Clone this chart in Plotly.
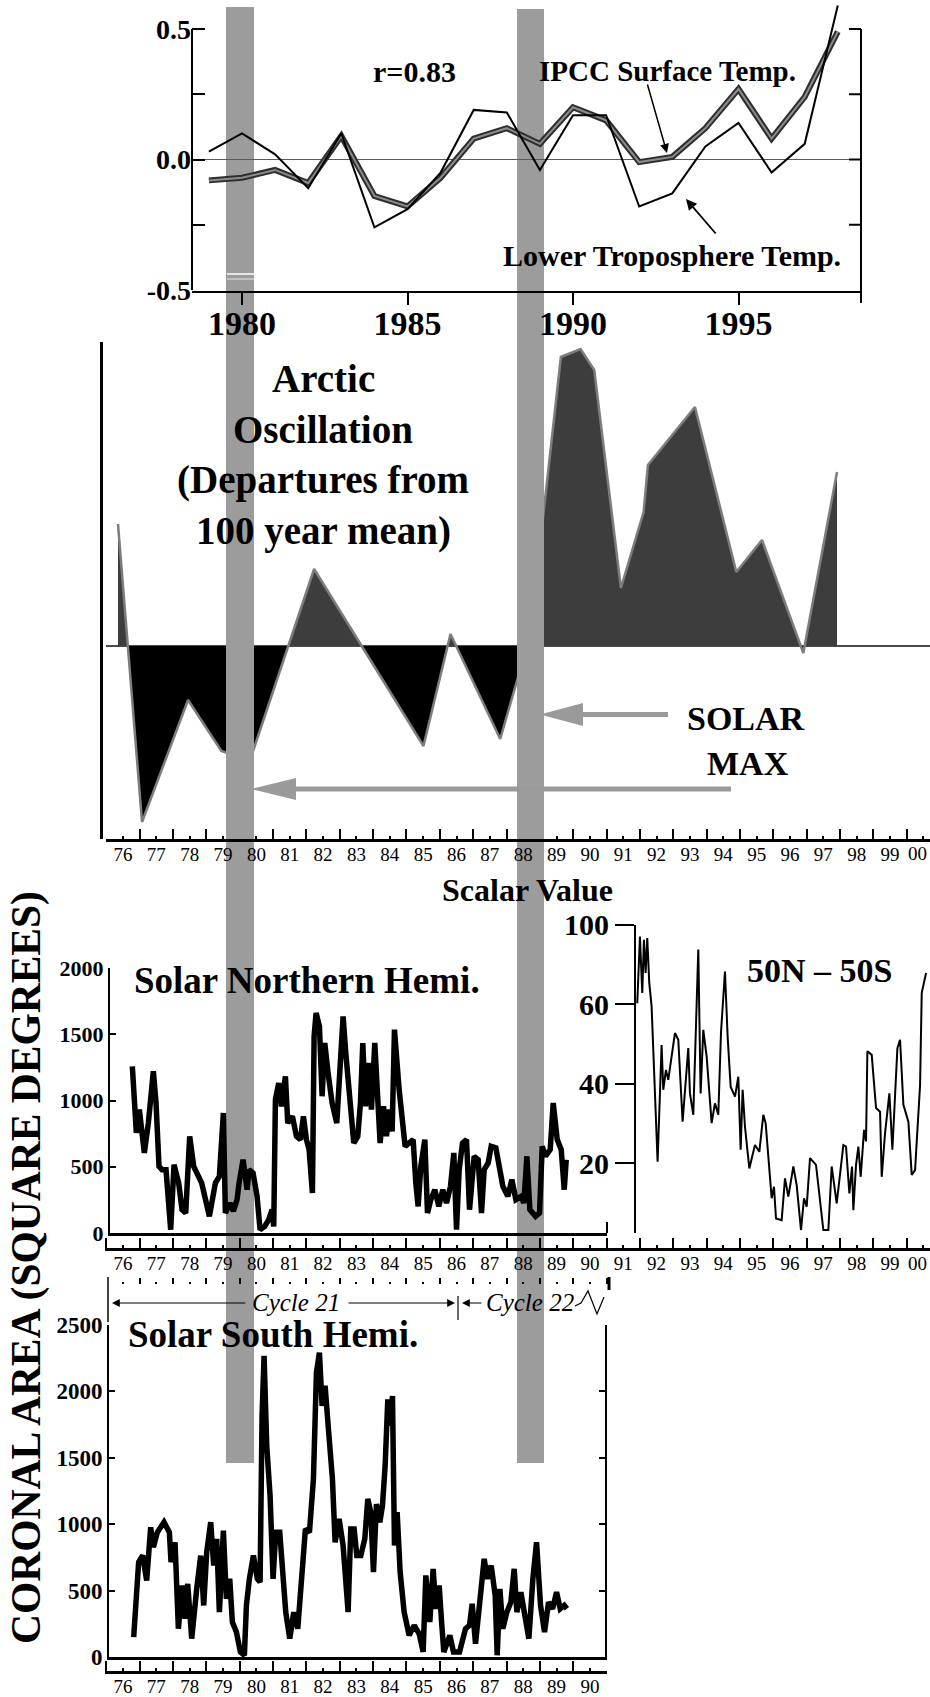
import plotly.graph_objects as go

# ---------------------------------------------------------------- data
# Annual temperature anomalies (deg C)
temp_years = list(range(1979, 1999))
lower_trop = [0.03, 0.10, 0.02, -0.11, 0.10, -0.26, -0.19, -0.05, 0.19, 0.18,
              -0.04, 0.17, 0.17, -0.18, -0.13, 0.05, 0.14, -0.05, 0.06, 0.59]
ipcc_surface = [-0.08, -0.07, -0.04, -0.09, 0.09, -0.14, -0.18, -0.07, 0.08, 0.12,
                0.06, 0.20, 0.15, -0.01, 0.01, 0.12, 0.27, 0.08, 0.24, 0.49]
temp_tick_years = [1980, 1985, 1990, 1995]

# Arctic Oscillation, departures from the 100 year mean (index units)
ao_time = [75.85, 76.57, 77.95, 78.95, 79.80, 81.73, 85.01, 85.82, 87.31, 88.20,
           89.13, 89.72, 90.13, 90.93, 91.61, 91.74, 93.15, 94.39, 95.16, 96.40, 97.41]
ao_value = [1.22, -1.76, -0.54, -1.05, -1.15, 0.77, -1.00, 0.12, -0.93, 0.10,
            2.89, 2.97, 2.76, 0.58, 1.34, 1.81, 2.39, 0.74, 1.06, -0.07, 1.74]

# Coronal hole area, northern solar hemisphere (square degrees)
north_time = [76.28, 76.34, 76.40, 76.49, 76.64, 76.76, 76.91, 76.99, 77.08, 77.17,
              77.29, 77.43, 77.53, 77.67, 77.77, 77.88, 78.00, 78.12, 78.36, 78.59,
              78.77, 78.89, 79.01, 79.07, 79.21, 79.31, 79.42, 79.48, 79.60, 79.72,
              79.78, 79.90, 80.02, 80.11, 80.25, 80.37, 80.47, 80.52, 80.57, 80.67,
              80.75, 80.87, 80.94, 81.08, 81.20, 81.32, 81.41, 81.50, 81.58, 81.68,
              81.73, 81.79, 81.89, 81.97, 82.05, 82.15, 82.27, 82.41, 82.50, 82.60,
              82.68, 82.80, 82.92, 83.04, 83.12, 83.19, 83.27, 83.35, 83.45, 83.55,
              83.63, 83.71, 83.81, 83.90, 83.99, 84.07, 84.14, 84.28, 84.46, 84.58,
              84.70, 84.78, 84.85, 84.93, 85.05, 85.13, 85.23, 85.35, 85.47, 85.59,
              85.70, 85.82, 85.92, 86.00, 86.08, 86.18, 86.30, 86.39, 86.53, 86.65,
              86.75, 86.83, 86.95, 87.04, 87.18, 87.30, 87.39, 87.54, 87.66, 87.78,
              87.94, 88.02, 88.11, 88.20, 88.37, 88.49, 88.57, 88.67, 88.81, 88.90,
              89.02, 89.14, 89.23, 89.29]
north_area = [1258, 1006, 755, 931, 604, 830, 1220, 981, 503, 478,
              478, 25, 516, 377, 176, 151, 730, 503, 377, 126,
              377, 428, 906, 151, 226, 164, 252, 377, 553, 327,
              478, 453, 277, 25, 50, 101, 176, 50, 1006, 1132,
              956, 1182, 830, 881, 730, 705, 881, 705, 629, 302,
              1484, 1661, 1560, 1032, 1434, 1208, 981, 830, 1283, 1635,
              1359, 981, 679, 730, 981, 1434, 956, 1283, 931, 1434,
              1082, 679, 956, 730, 931, 767, 1535, 1082, 654, 679,
              705, 377, 201, 503, 705, 151, 252, 327, 201, 327,
              226, 352, 604, 25, 478, 679, 705, 176, 579, 553,
              151, 478, 528, 654, 642, 478, 352, 277, 403, 252,
              277, 226, 579, 176, 126, 151, 654, 579, 629, 981,
              705, 629, 327, 553]

# Coronal hole area, southern solar hemisphere (square degrees)
south_time = [76.32, 76.47, 76.59, 76.71, 76.83, 76.91, 77.03, 77.23, 77.39, 77.44,
              77.56, 77.66, 77.78, 77.86, 77.94, 78.06, 78.21, 78.33, 78.42, 78.51,
              78.63, 78.72, 78.81, 78.89, 79.01, 79.10, 79.20, 79.28, 79.40, 79.52,
              79.64, 79.70, 79.79, 79.91, 80.03, 80.11, 80.17, 80.23, 80.31, 80.41,
              80.50, 80.58, 80.70, 80.79, 80.88, 81.00, 81.12, 81.24, 81.35, 81.47,
              81.59, 81.71, 81.80, 81.89, 81.97, 82.06, 82.16, 82.28, 82.36, 82.48,
              82.60, 82.75, 82.83, 82.93, 83.01, 83.13, 83.25, 83.34, 83.43, 83.51,
              83.60, 83.70, 83.78, 83.86, 83.94, 84.02, 84.08, 84.14, 84.22, 84.31,
              84.43, 84.58, 84.73, 84.88, 85.00, 85.08, 85.20, 85.30, 85.38, 85.48,
              85.56, 85.62, 85.80, 85.91, 86.09, 86.27, 86.39, 86.47, 86.57, 86.68,
              86.83, 86.92, 87.04, 87.16, 87.22, 87.30, 87.39, 87.51, 87.63, 87.73,
              87.81, 87.93, 88.05, 88.17, 88.29, 88.40, 88.52, 88.64, 88.76, 88.88,
              89.00, 89.11, 89.23, 89.31]
south_area = [150, 714, 764, 576, 977, 827, 939, 1015, 939, 714,
              864, 213, 539, 288, 551, 138, 513, 764, 388, 789,
              1015, 689, 889, 338, 952, 438, 589, 263, 188, 38,
              13, 388, 589, 764, 589, 564, 1816, 2267, 1590, 1215,
              589, 939, 939, 589, 338, 138, 338, 213, 589, 964,
              939, 1340, 2142, 2292, 1891, 2042, 1716, 1340, 864, 1040,
              839, 338, 964, 964, 764, 764, 889, 1190, 1090, 639,
              1152, 1015, 1140, 1440, 1941, 1741, 1966, 839, 1090, 639,
              338, 163, 238, 175, 38, 614, 263, 664, 363, 539,
              238, 38, 163, 38, 38, 213, 238, 401, 100, 338,
              739, 589, 689, 463, 13, 513, 213, 338, 413, 664,
              338, 488, 338, 138, 589, 864, 388, 188, 413, 363,
              488, 363, 388, 363]

# Scalar value, 50N - 50S
scalar_time = [91.42, 91.50, 91.57, 91.62, 91.67, 91.72, 91.78, 91.85, 92.03, 92.15,
               92.20, 92.28, 92.35, 92.55, 92.65, 92.78, 92.95, 93.00, 93.10, 93.25,
               93.32, 93.40, 93.50, 93.65, 93.75, 93.85, 93.93, 94.05, 94.13, 94.22,
               94.35, 94.45, 94.52, 94.58, 94.65, 94.78, 94.95, 95.08, 95.20, 95.27,
               95.45, 95.52, 95.58, 95.75, 95.85, 95.95, 96.10, 96.20, 96.33, 96.42,
               96.50, 96.60, 96.78, 96.93, 97.00, 97.15, 97.25, 97.40, 97.60, 97.68,
               97.78, 97.86, 97.90, 97.98, 98.05, 98.12, 98.22, 98.28, 98.32, 98.45,
               98.58, 98.70, 98.75, 98.85, 98.98, 99.07, 99.22, 99.30, 99.40, 99.55,
               99.65, 99.75, 99.90, 99.95, 100.08]
scalar_value = [60.3, 77.1, 62.9, 76.3, 67.9, 76.7, 65.4, 59.5, 20.4, 49.8,
                38.5, 43.5, 41.0, 52.8, 51.1, 30.5, 49.0, 37.6, 32.2, 73.8,
                37.6, 53.6, 46.9, 30.1, 35.1, 32.2, 52.8, 68.3, 51.9, 39.3,
                36.8, 41.8, 23.4, 38.5, 29.2, 18.7, 24.6, 22.9, 32.2, 30.1,
                11.2, 14.1, 6.1, 5.7, 16.2, 11.6, 19.2, 14.5, 3.2, 11.2,
                9.1, 21.3, 19.6, 8.2, 3.2, 3.2, 19.2, 9.9, 24.6, 24.2,
                12.4, 19.2, 8.2, 19.6, 24.2, 16.6, 28.4, 25.5, 48.2, 47.3,
                33.9, 33.0, 16.6, 27.6, 37.6, 23.4, 49.0, 51.1, 34.7, 30.5,
                17.1, 18.3, 39.7, 62.9, 67.9]
scalar_tick_vals = [20, 40, 60, 80]
scalar_tick_text = ["20", "40", "60", "100"]

coronal_ticks_north = [0, 500, 1000, 1500, 2000]
coronal_ticks_south = [0, 500, 1000, 1500, 2000, 2500]

year_ticks = list(range(76, 101))
year_labels = [f"{y % 100:02d}" for y in year_ticks]
half_year_ticks = [y + 0.5 for y in range(75, 100)]

# ---------------------------------------------------------------- geometry
W, H = 930, 1697
SERIF = "Liberation Serif"
BAR_GREY = "#9c9c9c"


def fx(px):
    return px / W


def fy(py):
    return 1 - py / H


def yr_at(px):          # lower panels: one shared time scale
    return 76 + (px - 123) / 33.35


def top_yr_at(px):
    return 1980 + (px - 242) / 33.1


def top_val_at(py):
    return (159.5 - py) / 261


def ao_val_at(py):
    return (646 - py) / 100


def scalar_val_at(py):
    return 20 + (1163.3 - py) / 3.972


def split_at_zero(t, v):
    tt, vv = [t[0]], [v[0]]
    for i in range(1, len(t)):
        a, b = v[i - 1], v[i]
        if a * b < 0:
            tt.append(t[i - 1] + (t[i] - t[i - 1]) * a / (a - b))
            vv.append(0.0)
        tt.append(t[i])
        vv.append(b)
    return tt, [max(x, 0) for x in vv], [min(x, 0) for x in vv]


fig = go.Figure()

# ---------------------------------------------------------------- traces
fig.add_trace(go.Scatter(x=temp_years, y=ipcc_surface, mode="lines", xaxis="x", yaxis="y",
                         line=dict(color="#2e2e2e", width=6)))
fig.add_trace(go.Scatter(x=temp_years, y=ipcc_surface, mode="lines", xaxis="x", yaxis="y",
                         line=dict(color="#8c8c8c", width=2)))
fig.add_trace(go.Scatter(x=temp_years, y=lower_trop, mode="lines", xaxis="x", yaxis="y",
                         line=dict(color="black", width=2)))

ao_t, ao_pos, ao_neg = split_at_zero(ao_time, ao_value)
fig.add_trace(go.Scatter(x=ao_t, y=ao_pos, mode="lines", fill="tozeroy", xaxis="x2", yaxis="y2",
                         fillcolor="#3d3d3d", line=dict(width=0)))
fig.add_trace(go.Scatter(x=ao_t, y=ao_neg, mode="lines", fill="tozeroy", xaxis="x2", yaxis="y2",
                         fillcolor="#000000", line=dict(width=0)))
fig.add_trace(go.Scatter(x=ao_time, y=ao_value, mode="lines", xaxis="x2", yaxis="y2",
                         line=dict(color="#7d7d7d", width=2.5)))

fig.add_trace(go.Scatter(x=north_time, y=north_area, mode="lines", xaxis="x3", yaxis="y3",
                         line=dict(color="black", width=5.5)))
fig.add_trace(go.Scatter(x=scalar_time, y=scalar_value, mode="lines", xaxis="x4", yaxis="y4",
                         line=dict(color="black", width=2)))
fig.add_trace(go.Scatter(x=south_time, y=south_area, mode="lines", xaxis="x6", yaxis="y6",
                         line=dict(color="black", width=5.5)))

# empty traces so the stand-alone year axes get drawn
for xa, ya in [("x5", "y5"), ("x7", "y7"), ("x8", "y8")]:
    fig.add_trace(go.Scatter(x=[], y=[], mode="lines", xaxis=xa, yaxis=ya, hoverinfo="skip"))

# ---------------------------------------------------------------- axes
tick_bold = lambda s: dict(family=SERIF, size=s, color="black", weight="bold")
tick_plain = dict(family=SERIF, size=19, color="black")
base = dict(showgrid=False, zeroline=False, color="black", automargin=False,
            ticklabeloverflow="allow")

# the final "00" sits on the page edge, so it is set as a right-aligned label instead
axis_year_labels = year_labels[:-1] + [""]


def time_axis(px0, px1, anchor, labels=True, line=True):
    d = dict(base, domain=[fx(px0), fx(px1)], range=[yr_at(px0), yr_at(px1)], anchor=anchor,
             showline=line, linewidth=2.5, linecolor="black",
             tickmode="array", tickvals=year_ticks, ticktext=axis_year_labels,
             ticks="inside", ticklen=3, tickwidth=1.5, tickcolor="black",
             showticklabels=labels, tickfont=tick_plain, ticklabelstandoff=-4,
             minor=dict(tickmode="array", tickvals=half_year_ticks, ticks="inside",
                        ticklen=10, tickwidth=1.5, tickcolor="black", showgrid=False))
    return d


def stub_y(py0, py1, anchor):
    return dict(domain=[fy(py0), fy(py1)], anchor=anchor, visible=False, range=[0, 1],
                automargin=False)


layout_axes = dict(
    xaxis=dict(base, domain=[fx(192), fx(861)], range=[top_yr_at(192), top_yr_at(861)], anchor="y",
               showline=True, linewidth=2, linecolor="black", ticks="outside", ticklen=12, tickwidth=2,
               tickcolor="black", tickmode="array", tickvals=temp_tick_years, tickfont=tick_bold(34),
               ticklabelstandoff=-11),
    yaxis=dict(base, domain=[fy(291), fy(3)], range=[top_val_at(291), top_val_at(3)], anchor="x",
               showline=False, ticks="inside", ticklen=13, tickwidth=2, tickcolor="black",
               tickmode="array", tickvals=[-0.5, -0.25, 0, 0.25, 0.5],
               ticktext=["-0.5", "", "0.0", "", "0.5"], tickfont=tick_bold(28),
               zeroline=True, zerolinecolor="#5a5a5a", zerolinewidth=1.2),
    xaxis2=time_axis(106, 930, "y2"),
    yaxis2=dict(base, domain=[fy(839), fy(342)], range=[ao_val_at(839), ao_val_at(342)],
                anchor="free", position=fx(101), showline=True, linewidth=3, linecolor="black",
                showticklabels=False, ticks="",
                zeroline=True, zerolinecolor="#4a4a4a", zerolinewidth=1.5),
    xaxis3=dict(base, domain=[fx(110), fx(607)], range=[yr_at(110), yr_at(607)], anchor="y3",
                showline=True, linewidth=2.5, linecolor="black", showticklabels=False, ticks=""),
    yaxis3=dict(base, domain=[fy(1233), fy(968)], range=[0, 2000], anchor="x3",
                showline=True, linewidth=2, linecolor="black", ticks="inside", ticklen=6, tickwidth=2,
                tickcolor="black", tickmode="array", tickvals=coronal_ticks_north, tickfont=tick_bold(22)),
    xaxis4=dict(base, domain=[fx(636), 1], range=[yr_at(636), yr_at(930)], anchor="y4",
                showline=False, showticklabels=False, ticks=""),
    yaxis4=dict(base, domain=[fy(1233), fy(925)], range=[scalar_val_at(1233), scalar_val_at(925)],
                anchor="x4", showline=True, linewidth=2, linecolor="black",
                ticks="outside", ticklen=19, tickwidth=2, tickcolor="black",
                tickmode="array", tickvals=scalar_tick_vals, ticktext=scalar_tick_text,
                tickfont=tick_bold(30)),
    xaxis5=time_axis(105, 930, "y5"),
    yaxis5=stub_y(1248, 1240, "x5"),
    xaxis6=dict(base, domain=[fx(109), fx(605)], range=[yr_at(109), yr_at(605)], anchor="y6",
                showline=True, linewidth=2.5, linecolor="black", showticklabels=False, ticks=""),
    yaxis6=dict(base, domain=[fy(1657), fy(1325)], range=[0, 2500], anchor="x6",
                showline=True, linewidth=2, linecolor="black", mirror="ticks",
                ticks="inside", ticklen=6, tickwidth=2, tickcolor="black",
                tickmode="array", tickvals=coronal_ticks_south, tickfont=tick_bold(23)),
    xaxis7=time_axis(105, 607, "y7"),
    yaxis7=stub_y(1671, 1663, "x7"),
)
# dotted year row above the solar-cycle bracket
dotted = time_axis(107, 609, "y8", labels=False, line=False)
dotted.update(ticklen=2, tickwidth=2)
dotted["minor"].update(ticklen=6, tickwidth=1.5)
layout_axes["xaxis8"] = dotted
layout_axes["yaxis8"] = stub_y(1284, 1276, "x8")

# ---------------------------------------------------------------- shapes
shapes = []


def vline(px, py0, py1, width=2, color="black"):
    shapes.append(dict(type="line", xref="paper", yref="paper", x0=fx(px), x1=fx(px),
                       y0=fy(py0), y1=fy(py1), line=dict(color=color, width=width)))


def hline(px0, px1, py, width=2, color="black", layer="above"):
    shapes.append(dict(type="line", xref="paper", yref="paper", x0=fx(px0), x1=fx(px1),
                       y0=fy(py), y1=fy(py), line=dict(color=color, width=width), layer=layer))


def poly(points, color, layer="above", width=0):
    path = "M " + " L ".join(f"{fx(a):.5f},{fy(b):.5f}" for a, b in points) + " Z"
    shapes.append(dict(type="path", xref="paper", yref="paper", path=path, fillcolor=color,
                       line=dict(width=width, color=color), layer=layer))


# grey marker bands through all panels
for bx0, bx1, by0 in [(226, 254, 7), (517, 544, 9)]:
    shapes.append(dict(type="rect", xref="paper", yref="paper", x0=fx(bx0), x1=fx(bx1),
                       y0=fy(1463), y1=fy(by0), fillcolor=BAR_GREY, line=dict(width=0), layer="below"))
    shapes.append(dict(type="rect", xref="paper", yref="paper", x0=fx(bx0), x1=fx(bx1),
                       y0=fy(839), y1=fy(342), fillcolor=BAR_GREY, line=dict(width=0), layer="above"))
# pale seams across the first band just above the temperature axis
hline(227, 255, 274, width=1.5, color="white", layer="below")
hline(227, 255, 279, width=1.0, color="#e6e6e6", layer="below")

# temperature frame
vline(192, 290, 29)
vline(861, 303, 29)
for v in [0.5, 0.25, 0, -0.25]:
    hline(849, 861, 159.5 - v * 261)

# SOLAR MAX arrows
poly([(540, 714.5), (583, 703), (583, 712), (668, 712), (668, 717), (583, 717), (583, 726)], "#9a9a9a")
poly([(251, 789), (296, 778), (296, 786.5), (731, 786.5), (731, 791.5), (296, 791.5), (296, 800)], "#9a9a9a")

# small frame stubs
vline(607, 1233, 1222, width=2)
vline(108, 1277, 1322, width=1.5)
vline(609, 1277, 1290, width=3)
vline(458, 1296, 1320, width=1.2)
# little wave after "Cycle 22"
shapes.append(dict(type="path", xref="paper", yref="paper",
                   path="M " + " L ".join(f"{fx(a):.5f},{fy(b):.5f}" for a, b in
                                          [(575, 1306), (581, 1303), (588, 1291), (597, 1314), (604, 1297)]),
                   line=dict(color="black", width=1.2)))

# ---------------------------------------------------------------- text
ann = []


def text(px, py, s, size, bold=True, italic=False, xanchor="center", angle=0):
    ann.append(dict(x=fx(px), y=fy(py), xref="paper", yref="paper", text=s, showarrow=False,
                    xanchor=xanchor, yanchor="middle", textangle=angle,
                    font=dict(family=SERIF, size=size, color="black",
                              weight="bold" if bold else "normal",
                              style="italic" if italic else "normal")))


def arrow(px_head, py_head, px_tail, py_tail, width=1.5, head=2, size=1.0):
    ann.append(dict(x=fx(px_head), y=fy(py_head), ax=px_tail - px_head, ay=py_tail - py_head,
                    xref="paper", yref="paper", axref="pixel", ayref="pixel", text="",
                    showarrow=True, arrowhead=head, arrowsize=size, arrowwidth=width, arrowcolor="black"))


text(414, 71, "r=0.83", 30)
text(667, 71, "IPCC Surface Temp.", 29)
text(672, 255, "Lower Troposphere Temp.", 30)
arrow(667, 153, 647, 83, width=1.5, size=1.2)
arrow(686, 199, 717, 235, width=1.8, size=1.2)

for line_txt, py in [("Arctic", 378), ("Oscillation", 429), ("(Departures from", 480), ("100 year mean)", 531)]:
    text(323, py, line_txt, 39)
text(746, 718, "SOLAR", 34)
text(748, 764, "MAX", 34)

text(527, 890, "Scalar Value", 32)
text(819, 970, "50N \u2013 50S", 34)
text(132, 980, "Solar Northern Hemi.", 37, xanchor="left")
text(126, 1334, "Solar South Hemi.", 37, xanchor="left")
text(26, 1268, "CORONAL AREA (SQUARE DEGREES)", 41.5, angle=-90)

# closing year label of the two full-width year axes
for py in (853, 1263):
    text(929, py, year_labels[-1], 19, bold=False, xanchor="right")

text(296, 1302, "Cycle 21", 25, bold=False, italic=True)
text(530, 1302, "Cycle 22", 25, bold=False, italic=True)
arrow(112, 1303, 247, 1303, width=1.2, head=2, size=1.3)
arrow(455, 1303, 347, 1303, width=1.2, head=2, size=1.3)
arrow(462, 1303, 483, 1303, width=1.2, head=2, size=1.3)

fig.update_layout(
    template="none",
    width=W, height=H, autosize=False,
    margin=dict(l=0, r=0, t=0, b=0, pad=0),
    paper_bgcolor="white", plot_bgcolor="rgba(0,0,0,0)",
    showlegend=False,
    shapes=shapes, annotations=ann,
    **layout_axes,
)

fig.write_html("out.html")
